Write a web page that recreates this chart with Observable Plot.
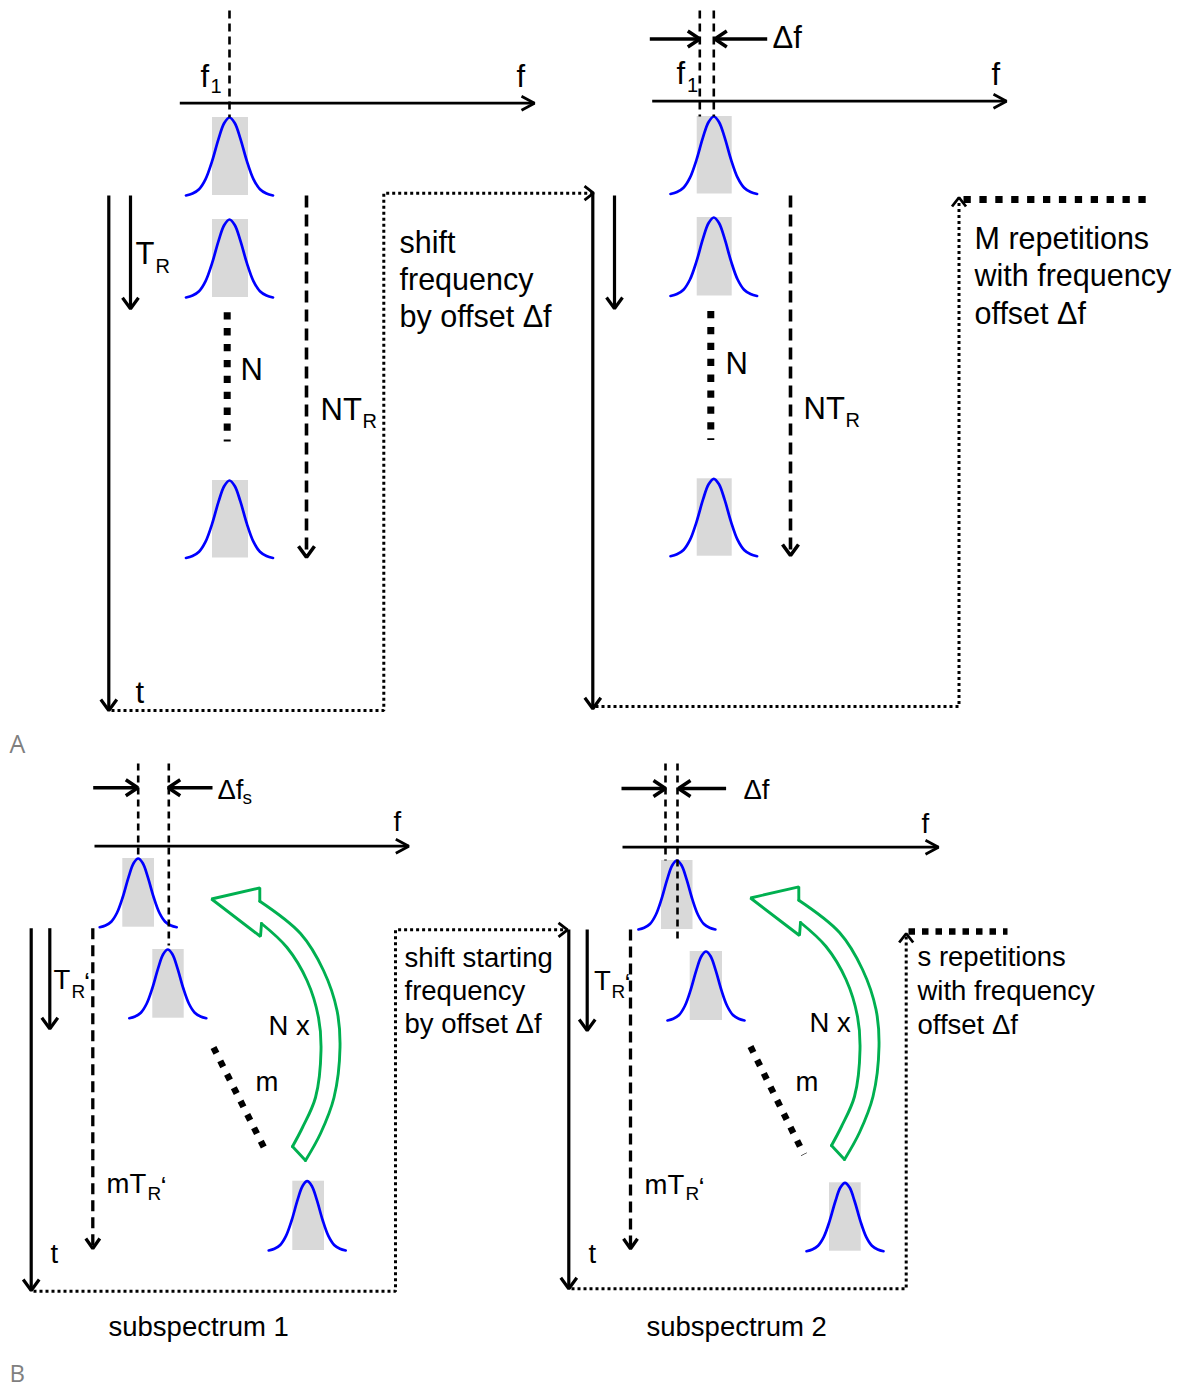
<!DOCTYPE html>
<html><head><meta charset="utf-8">
<script src="https://cdn.jsdelivr.net/npm/d3@7"></script>
<script src="https://cdn.jsdelivr.net/npm/@observablehq/plot@0.6"></script>
<style>html,body{margin:0;padding:0;background:#fff;} svg{display:block}</style>
</head><body><div id="chart"></div>
<script>
// ---------------- data (diagram coordinates) ----------------
// spectral peaks: centre, top, bottom, half width of curve, grey box extent
const peaks = [
  {id:"a1", cx:229,   top:117,    bottom:195,    hw:43.5, rx1:212,   rx2:248},
  {id:"a2", cx:229,   top:219,    bottom:297,    hw:43.5, rx1:212,   rx2:248},
  {id:"a3", cx:229,   top:480,    bottom:557.5,  hw:43.5, rx1:212,   rx2:248},
  {id:"b1", cx:713.3, top:116,    bottom:193.5,  hw:43.3, rx1:696.7, rx2:731.7},
  {id:"b2", cx:713.3, top:217,    bottom:295.5,  hw:43.3, rx1:696.7, rx2:731.7},
  {id:"b3", cx:713.3, top:478.3,  bottom:555.7,  hw:43.3, rx1:696.7, rx2:731.7},
  {id:"c1", cx:137.7, top:858,    bottom:926.7,  hw:38.5, rx1:122.3, rx2:154},
  {id:"c2", cx:167.3, top:949,    bottom:1017.7, hw:38.5, rx1:152.3, rx2:183.7},
  {id:"c3", cx:306.7, top:1180.7, bottom:1250,   hw:38.5, rx1:292.3, rx2:324},
  {id:"d1", cx:676.4, top:860,    bottom:929,    hw:38.5, rx1:661,   rx2:692.5},
  {id:"d2", cx:705.5, top:951,    bottom:1020,   hw:38.5, rx1:689.7, rx2:722},
  {id:"d3", cx:844.5, top:1182.3, bottom:1250.7, hw:38.5, rx1:829,   rx2:860.7}
];
// peak outline: relative position across (u) and relative height (v)
const peakProfileU = [-1, -0.85, -0.7, -0.55, -0.4, -0.25, -0.12, 0, 0.12, 0.25, 0.4, 0.55, 0.7, 0.85, 1];
const peakProfileV = [0, 0.025, 0.08, 0.21, 0.44, 0.73, 0.93, 1, 0.93, 0.73, 0.44, 0.21, 0.08, 0.025, 0];

// line paths: style, points, arrow head at end?
const paths = [
  // panel A left
  {id:"p1",  style:"axis",      head:true,  pts:[[179.3,102.7],[534,102.7]]},
  {id:"p2",  style:"dashThin",  head:false, pts:[[229,10],[229,117]]},
  {id:"p3",  style:"thick",     head:true,  pts:[[108.3,195],[108.3,710]]},
  {id:"p4",  style:"thick",     head:true,  pts:[[130,195],[130,308.3]]},
  {id:"p5",  style:"dashArrow", head:true,  pts:[[306,195],[306,556.7]]},
  {id:"p6",  style:"dotThick",  head:false, pts:[[226.7,311.7],[226.7,441]]},
  {id:"p7",  style:"dotThin",   head:true,  pts:[[111,710],[383.3,710],[383.3,192.7],[593,192.7]]},
  // panel A right
  {id:"q1",  style:"axis",      head:true,  pts:[[651.7,100.7],[1006,100.7]]},
  {id:"q2",  style:"dashThin",  head:false, pts:[[699.3,10],[699.3,116]]},
  {id:"q3",  style:"dashThin",  head:false, pts:[[713.3,10],[713.3,116]]},
  {id:"q4",  style:"delta",     head:true,  pts:[[649.3,38.5],[699.3,38.5]]},
  {id:"q5",  style:"delta",     head:true,  pts:[[766.7,38.5],[714.3,38.5]]},
  {id:"q6",  style:"thick",     head:true,  pts:[[592.3,192],[592.3,708.3]]},
  {id:"q7",  style:"thick",     head:true,  pts:[[614,195],[614,308]]},
  {id:"q8",  style:"dashArrow", head:true,  pts:[[790,195],[790,555]]},
  {id:"q9",  style:"dotThick",  head:false, pts:[[710.3,310.5],[710.3,439.5]]},
  {id:"q10", style:"dotThin",   head:true,  pts:[[595,706],[958.5,706],[958.5,197]]},
  {id:"q11", style:"dotThick",  head:false, pts:[[963,199],[1146,199]]},
  // panel B left
  {id:"r1",  style:"axis",      head:true,  pts:[[94,845.7],[408.3,845.7]]},
  {id:"r2",  style:"dashThin2", head:false, pts:[[137.7,763],[137.7,858]]},
  {id:"r3",  style:"dashThin2", head:false, pts:[[168.3,763],[168.3,945]]},
  {id:"r4",  style:"delta",     head:true,  pts:[[92.7,787.3],[137.3,787.3]]},
  {id:"r5",  style:"delta",     head:true,  pts:[[212,787.3],[167.7,787.3]]},
  {id:"r6",  style:"thick",     head:true,  pts:[[30.7,927.7],[30.7,1290]]},
  {id:"r7",  style:"thick",     head:true,  pts:[[49.3,927.7],[49.3,1028.3]]},
  {id:"r8",  style:"dashArrowB",head:true,  pts:[[92.3,927.7],[92.3,1248]]},
  {id:"r9",  style:"dotDiag",   head:false, pts:[[213,1047],[266.5,1153]]},
  {id:"r10", style:"dotThin",   head:true,  pts:[[33,1290.7],[395,1290.7],[395,929.3],[567,929.3]]},
  // panel B right
  {id:"s1",  style:"axis",      head:true,  pts:[[622,846.7],[938,846.7]]},
  {id:"s2",  style:"dashThin2", head:false, pts:[[665,763],[665,860]]},
  {id:"s3",  style:"dashThin2", head:false, pts:[[677,763],[677,943]]},
  {id:"s4",  style:"delta",     head:true,  pts:[[621,788],[665,788]]},
  {id:"s5",  style:"delta",     head:true,  pts:[[725.6,788],[678,788]]},
  {id:"s6",  style:"thick",     head:true,  pts:[[568.3,929],[568.3,1288.3]]},
  {id:"s7",  style:"thick",     head:true,  pts:[[586.7,929],[586.7,1030]]},
  {id:"s8",  style:"dashArrowB",head:true,  pts:[[630,929],[630,1248.3]]},
  {id:"s9",  style:"dotDiag",   head:false, pts:[[750,1046],[803.5,1154]]},
  {id:"s10", style:"dotThin",   head:true,  pts:[[571,1288.3],[905.7,1288.3],[905.7,933]]},
  {id:"s11", style:"dotThickB", head:false, pts:[[908,931],[1007,931]]}
];

// green "N x" loop arrow (panel B left), and where it is repeated
const greenOuter = [[259.3,900.7],[300,933],[323,970],[336.5,1010],[339.5,1047],[333.5,1097],[320,1133],[305,1160]];
const greenInner = [[261,923],[286.5,947],[306.5,980],[318,1017],[320.5,1050],[315,1097],[302,1127],[292,1146]];
const greenHead  = [[259.3,900.7],[259.3,887.3],[211,898.5],[260,936],[261,923]];
const greenTail  = [[305,1160],[292,1146]];
const greenOffsets = [[0,0],[539,-1]];

// text labels: x, baseline, text, size
const labels = [
  {x:200, b:86,   t:"f", s:31}, {x:210, b:92.5, t:"1", s:20},
  {x:516, b:86,   t:"f", s:31},
  {x:135, b:263,  t:"T", s:31}, {x:155, b:272, t:"R", s:20},
  {x:240, b:379,  t:"N", s:31},
  {x:320, b:419,  t:"NT", s:31}, {x:362, b:427, t:"R", s:20},
  {x:399, b:252,  t:"shift", s:30.5},
  {x:399, b:289,  t:"frequency", s:30.5},
  {x:399, b:326,  t:"by offset \u0394f", s:30.5},
  {x:135, b:702,  t:"t", s:31},
  {x:772, b:47,   t:"\u0394f", s:31},
  {x:676, b:83,   t:"f", s:31}, {x:686.5, b:91.5, t:"1", s:20},
  {x:991, b:84,   t:"f", s:31},
  {x:725, b:373,  t:"N", s:31},
  {x:803, b:418,  t:"NT", s:31}, {x:845, b:426, t:"R", s:20},
  {x:974, b:248,  t:"M repetitions", s:30.5},
  {x:974, b:285,  t:"with frequency", s:30.5},
  {x:974, b:323,  t:"offset \u0394f", s:30.5},
  // panel B
  {x:217, b:798,  t:"\u0394f", s:27.5}, {x:242, b:803.5, t:"s", s:19},
  {x:393, b:830,  t:"f", s:27.5},
  {x:53,  b:988,  t:"T", s:27.5}, {x:71, b:997, t:"R", s:19}, {x:83.5, b:991, t:"\u2018", s:27.5},
  {x:268, b:1034, t:"N x", s:27.5},
  {x:255, b:1090, t:"m", s:27.5},
  {x:106, b:1192, t:"mT", s:27.5}, {x:147, b:1199, t:"R", s:19}, {x:160, b:1195, t:"\u2018", s:27.5},
  {x:50,  b:1262, t:"t", s:27.5},
  {x:108, b:1335, t:"subspectrum 1", s:27.5},
  {x:404, b:966.5,t:"shift starting", s:27.5},
  {x:404, b:999,  t:"frequency", s:27.5},
  {x:404, b:1032, t:"by offset \u0394f", s:27.5},
  {x:743, b:798,  t:"\u0394f", s:27.5},
  {x:921, b:832,  t:"f", s:27.5},
  {x:593.5, b:989, t:"T", s:27.5}, {x:611, b:997, t:"R", s:19}, {x:624, b:992, t:"\u2018", s:27.5},
  {x:809, b:1031, t:"N x", s:27.5},
  {x:795, b:1090, t:"m", s:27.5},
  {x:644, b:1193, t:"mT", s:27.5}, {x:685, b:1199.5, t:"R", s:19}, {x:698, b:1196, t:"\u2018", s:27.5},
  {x:588, b:1262, t:"t", s:27.5},
  {x:646, b:1335, t:"subspectrum 2", s:27.5},
  {x:917, b:965,  t:"s repetitions", s:27.5},
  {x:917, b:999.5,t:"with frequency", s:27.5},
  {x:917, b:1033, t:"offset \u0394f", s:27.5}
];
const panelLetters = [
  {x:9, b:752,  t:"A", s:25},
  {x:9, b:1381, t:"B", s:24}
];

// ---------------- styles ----------------
const styles = {
  axis:       {w:2.7, dash:null,        hd:13, hh:7},
  thick:      {w:3.2, dash:null,        hd:11, hh:8},
  delta:      {w:3.5, dash:null,        hd:12, hh:8},
  dashThin:   {w:2.6, dash:"8,5",       hd:0,  hh:0},
  dashThin2:  {w:2.6, dash:"7,5",       hd:0,  hh:0},
  dashArrow:  {w:3.6, dash:"12,7",      hd:11, hh:8},
  dashArrowB: {w:3.3, dash:"11,6",      hd:10, hh:7},
  dotThin:    {w:3,   dash:"3,3",       hd:9,  hh:7},
  dotThick:   {w:7,   dash:"7.3,8.6",   hd:0,  hh:0},
  dotThickB:  {w:6.5, dash:"6.5,7",     hd:0,  hh:0},
  dotDiag:    {w:6.5, dash:"6.5,8.5",   hd:0,  hh:0}
};

// ---------------- build rows ----------------
const peakRows = peaks.flatMap(p => peakProfileU.map((u, i) => ({
  id: p.id, x: p.cx + u * p.hw, y: p.bottom - peakProfileV[i] * (p.bottom - p.top)
})));

const lineRows = paths.flatMap(p => p.pts.map(([x, y]) => ({id: p.id, style: p.style, x, y})));

const headRows = paths.filter(p => p.head).flatMap(p => {
  const st = styles[p.style];
  const n = p.pts.length;
  const [x2, y2] = p.pts[n - 1], [x1, y1] = p.pts[n - 2];
  const L = Math.hypot(x2 - x1, y2 - y1), ux = (x2 - x1) / L, uy = (y2 - y1) / L;
  const bx = x2 - st.hd * ux, by = y2 - st.hd * uy;
  const px = -uy, py = ux;
  const w = p.style.startsWith("dot") ? 2.8 : st.w;
  return [
    {id: p.id, w, x: bx + st.hh * px, y: by + st.hh * py},
    {id: p.id, w, x: x2, y: y2},
    {id: p.id, w, x: bx - st.hh * px, y: by - st.hh * py}
  ];
});

const greenRows = (pts, kind) => greenOffsets.flatMap(([dx, dy], k) =>
  pts.map(([x, y]) => ({id: kind + k, x: x + dx, y: y + dy})));

const lineMarks = Object.entries(styles).map(([name, st]) =>
  Plot.line(lineRows.filter(r => r.style === name), {
    x: "x", y: "y", z: "id", stroke: "black", strokeWidth: st.w,
    strokeDasharray: st.dash || undefined, strokeLinecap: "butt", strokeLinejoin: "miter"
  }));

const headWidths = [...new Set(headRows.map(r => r.w))];
const headMarks = headWidths.map(w =>
  Plot.line(headRows.filter(r => r.w === w), {
    x: "x", y: "y", z: "id", stroke: "black", strokeWidth: w,
    strokeLinecap: "butt", strokeLinejoin: "miter"
  }));

const font = "'Liberation Sans', Arial, Helvetica, sans-serif";

const chart = Plot.plot({
  width: 1184, height: 1390, margin: 0,
  x: {domain: [0, 1184], range: [0, 1184], axis: null},
  y: {domain: [0, 1390], range: [0, 1390], axis: null},
  style: {background: "white"},
  marks: [
    Plot.rect(peaks, {x1: "rx1", x2: "rx2", y1: "top", y2: "bottom", fill: "#d9d9d9"}),
    Plot.line(peakRows, {x: "x", y: "y", z: "id", stroke: "#0000ff", strokeWidth: 2.7, curve: "catmull-rom"}),
    ...lineMarks,
    ...headMarks,
    Plot.line(greenRows(greenOuter, "o"), {x: "x", y: "y", z: "id", stroke: "#00b050", strokeWidth: 2.9, curve: "catmull-rom"}),
    Plot.line(greenRows(greenInner, "i"), {x: "x", y: "y", z: "id", stroke: "#00b050", strokeWidth: 2.9, curve: "catmull-rom"}),
    Plot.line(greenRows(greenHead, "h"), {x: "x", y: "y", z: "id", stroke: "#00b050", strokeWidth: 2.9, strokeLinejoin: "miter"}),
    Plot.line(greenRows(greenTail, "t"), {x: "x", y: "y", z: "id", stroke: "#00b050", strokeWidth: 2.9, strokeLinejoin: "miter"}),
    Plot.text(labels, {
      x: "x", y: d => d.b - 0.32 * d.s, text: "t", fontSize: d => d.s,
      textAnchor: "start", lineAnchor: "middle", fill: "black", fontFamily: font
    }),
    Plot.text(panelLetters, {
      x: "x", y: d => d.b - 0.32 * d.s, text: "t", fontSize: d => d.s,
      textAnchor: "start", lineAnchor: "middle", fill: "#7f7f7f", fontFamily: "'Open Sans', Lato, sans-serif"
    })
  ]
});
document.getElementById("chart").appendChild(chart);
</script>
</body></html>
